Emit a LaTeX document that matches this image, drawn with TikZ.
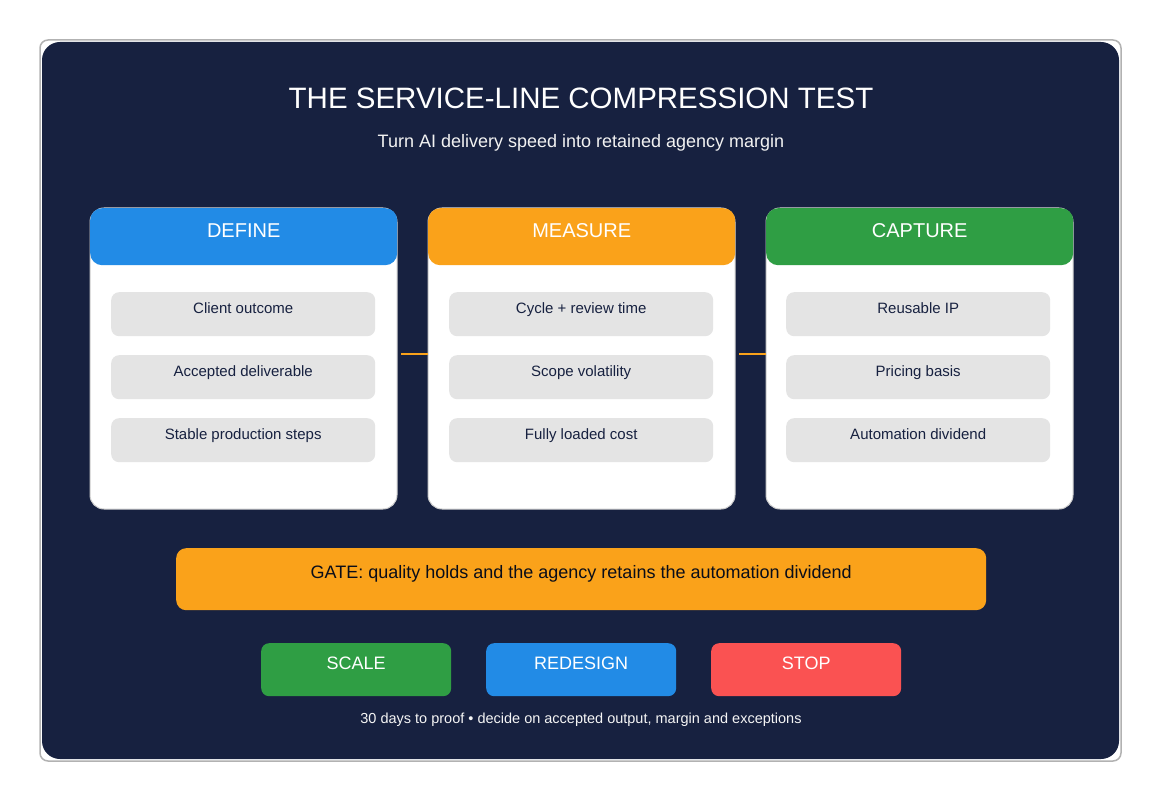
\documentclass[tikz,border=0pt]{standalone}
\usepackage{fontspec}
\setmainfont{Liberation Sans}
\definecolor{navy}{HTML}{172140}
\definecolor{hblue}{HTML}{228BE6}
\definecolor{horange}{HTML}{FAA21A}
\definecolor{hgreen}{HTML}{2F9E44}
\definecolor{hred}{HTML}{FA5252}
\definecolor{itemgray}{HTML}{E4E4E4}
\tikzset{
  col/.style={draw=gray!40, line width=1pt, fill=white, rounded corners=14pt},
  head/.style={rounded corners=12pt, minimum width=307pt, minimum height=57pt, text=white,
    font=\fontsize{20}{24}\selectfont, text depth=12pt, inner sep=0pt},
  item/.style={fill=itemgray, rounded corners=8pt, minimum width=264pt, minimum height=44pt,
    text=navy, font=\fontsize{15}{18}\selectfont, text depth=13pt, inner sep=0pt},
  btn/.style={rounded corners=8pt, minimum width=190pt, minimum height=53pt, text=white,
    font=\fontsize{18}{22}\selectfont, text depth=12pt, inner sep=0pt},
  link/.style={draw=horange, line width=2pt}
}
\begin{document}
\begin{tikzpicture}[x=1pt,y=-1pt]
\useasboundingbox (0,0) rectangle (1162,802);
\draw[gray!60, line width=1.5pt, fill=white, rounded corners=8pt] (40,40) rectangle (1121,761);
\fill[navy, rounded corners=18pt] (42,42) rectangle (1119,759);
\node[text=white, font=\fontsize{29.5}{36}\selectfont] (title) at (581,98) {THE SERVICE-LINE COMPRESSION TEST};
\node[text=white!90!gray, font=\fontsize{18}{22}\selectfont] (sub) at (581,143) {Turn AI delivery speed into retained agency margin};
% columns
\foreach \n/\x/\c/\t in {def/90/hblue/DEFINE, mea/428/horange/MEASURE, cap/766/hgreen/CAPTURE}{
  \draw[col] (\x,208) rectangle ++(307,301);
  \node[head, fill=\c, anchor=north west] (\n) at (\x,208) {\t};
  \coordinate (\n L) at (\x,354);
  \coordinate (\n R) at (\x+311,354);
}
\foreach \n/\x/\a/\b/\cc in {def/111/Client outcome/Accepted deliverable/Stable production steps,
    mea/449/Cycle + review time/Scope volatility/Fully loaded cost,
    cap/786/Reusable IP/Pricing basis/Automation dividend}{
  \node[item, anchor=north west] (\n1) at (\x,292) {\a};
  \node[item, anchor=north west] (\n2) at (\x,355) {\b};
  \node[item, anchor=north west] (\n3) at (\x,418) {\cc};
}
\draw[link] (defR) -- (meaL);
\draw[link] (meaR) -- (capL);
% gate
\node[fill=horange, rounded corners=10pt, minimum width=810pt, minimum height=62pt, inner sep=0pt,
  text=navy!40!black, font=\fontsize{18}{22}\selectfont, text depth=14pt, anchor=north west] (gate) at (176,548)
  {GATE: quality holds and the agency retains the automation dividend};
\node[btn, fill=hgreen, anchor=north west] (scale) at (261,643) {SCALE};
\node[btn, fill=hblue, anchor=north west] (redesign) at (486,643) {REDESIGN};
\node[btn, fill=hred, anchor=north west] (stop) at (711,643) {STOP};
\node[text=white!92!gray, font=\fontsize{14.5}{17}\selectfont] (foot) at (581,720)
  {30 days to proof • decide on accepted output, margin and exceptions};
\end{tikzpicture}
\end{document}
